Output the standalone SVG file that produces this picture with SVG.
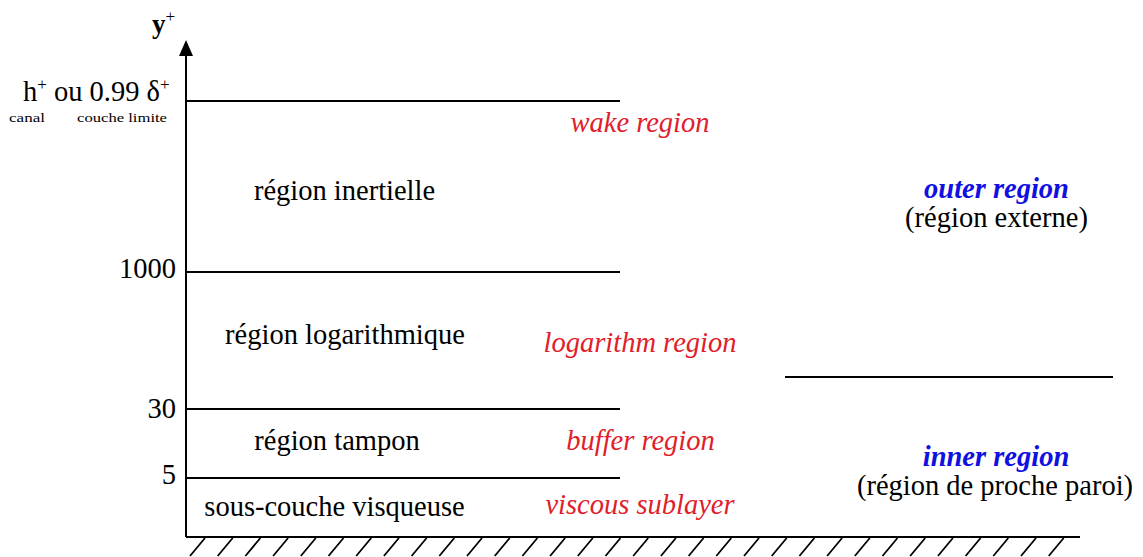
<svg xmlns="http://www.w3.org/2000/svg" width="1143" height="557" viewBox="0 0 1143 557" font-family="'Liberation Serif', 'DejaVu Serif', 'Times New Roman', serif">
<style>
text{font-family:"Liberation Serif","DejaVu Serif","Times New Roman",serif}
.t{font-size:28.5px;fill:#000}
.r{font-size:28.5px;font-style:italic;fill:#e0202a;text-anchor:middle}
.b{font-size:28.5px;font-style:italic;font-weight:bold;fill:#1010e0;text-anchor:middle}
.m{text-anchor:middle}
.e{text-anchor:end}
.ln{stroke:#000;stroke-width:2;fill:none}
.h{stroke:#000;stroke-width:1.8;fill:none}
</style>
<g id="axis">
<line class="ln" x1="186" y1="52" x2="186" y2="537"/>
<path d="M186,40 L193,56 L179,56 Z" fill="#000"/>
<text class="t" x="152" y="33" style="font-weight:bold;font-size:27px">y<tspan dy="-11" style="font-size:17px;font-weight:normal">+</tspan></text>
</g>
<g id="connectors">
<line class="ln" x1="186" y1="101" x2="620" y2="101"/>
<line class="ln" x1="186" y1="272" x2="620" y2="272"/>
<line class="ln" x1="186" y1="409" x2="620" y2="409"/>
<line class="ln" x1="186" y1="478" x2="620" y2="478"/>
<line class="ln" x1="785" y1="377" x2="1113" y2="377"/>
<line class="ln" x1="186" y1="537" x2="1080" y2="537"/>
<path class="h" d="M190,556 l15,-18 M217.7,556 l15,-18 M245.4,556 l15,-18 M273.1,556 l15,-18 M300.8,556 l15,-18 M328.5,556 l15,-18 M356.2,556 l15,-18 M383.9,556 l15,-18 M411.6,556 l15,-18 M439.3,556 l15,-18 M467,556 l15,-18 M494.7,556 l15,-18 M522.4,556 l15,-18 M550.1,556 l15,-18 M577.8,556 l15,-18 M605.5,556 l15,-18 M633.2,556 l15,-18 M660.9,556 l15,-18 M688.6,556 l15,-18 M716.3,556 l15,-18 M744,556 l15,-18 M771.7,556 l15,-18 M799.4,556 l15,-18 M827.1,556 l15,-18 M854.8,556 l15,-18 M882.5,556 l15,-18 M910.2,556 l15,-18 M937.9,556 l15,-18 M965.6,556 l15,-18 M993.3,556 l15,-18 M1021,556 l15,-18 M1048.7,556 l15,-18"/>
</g>
<g id="ticks">
<text class="t" x="23" y="101">h<tspan dy="-11" style="font-size:17px">+</tspan><tspan dy="11"> ou 0.99 δ</tspan><tspan dy="-11" style="font-size:17px">+</tspan></text>
<text class="t" x="9" y="122" style="font-size:13px" textLength="36" lengthAdjust="spacingAndGlyphs">canal</text>
<text class="t" x="77" y="122" style="font-size:13px" textLength="90" lengthAdjust="spacingAndGlyphs">couche limite</text>
<text class="t e" x="176" y="278">1000</text>
<text class="t e" x="176" y="418">30</text>
<text class="t e" x="176" y="484">5</text>
</g>
<g id="inertial">
<text class="t m" x="344.5" y="200">région inertielle</text>
<text class="r" x="640" y="132">wake region</text>
</g>
<g id="log">
<text class="t m" x="345" y="344">région logarithmique</text>
<text class="r" x="640" y="352">logarithm region</text>
</g>
<g id="buffer">
<text class="t m" x="337" y="450">région tampon</text>
<text class="r" x="640.5" y="450">buffer region</text>
</g>
<g id="viscous">
<text class="t m" x="334.5" y="516">sous-couche visqueuse</text>
<text class="r" x="640" y="514">viscous sublayer</text>
</g>
<g id="outer">
<text class="b" x="996.5" y="198">outer region</text>
<text class="t m" x="996.5" y="227">(région externe)</text>
</g>
<g id="inner">
<text class="b" x="996" y="466">inner region</text>
<text class="t m" x="995" y="495">(région de proche paroi)</text>
</g>
</svg>
